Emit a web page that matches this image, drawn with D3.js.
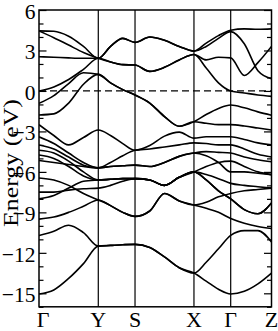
<!DOCTYPE html>
<html><head><meta charset="utf-8">
<script src="https://cdn.jsdelivr.net/npm/d3@7"></script>
<style>body{margin:0;background:#fff}svg{display:block}text{font-family:"Liberation Serif","Times New Roman",serif}</style>
</head><body>
<svg id="chart" width="278" height="331"></svg>
<script>
// high-symmetry points and path lengths (arbitrary k units)
const kLabels = ["Γ", "Y", "S", "X", "Γ", "Z"];
const kPath = [0, 0.510, 0.826, 1.333, 1.649, 2.0];
// sampling grid, in segment units (integer = high-symmetry point)
const kGrid = [0, 0.25, 0.5, 0.75, 1, 1.333, 1.667, 2, 2.25, 2.5, 2.75, 3, 3.333, 3.667, 4, 4.333, 4.667, 5];
const yTicks = [6, 3, 0, -3, -6, -9, -12, -15];
const yDomain = [-16, 6];

// band energies (eV) at kGrid
const bandU1 = [4.45, 4.42, 4.05, 3.3, 2.42, 3.3, 3.9, 3.6, 4.0, 3.75, 3.3, 2.95, 3.55, 4.1, 4.5, 4.6, 4.57, 4.6];
const bandU2 = [4.45, 3.95, 3.4, 2.85, 2.42, 2.15, 1.95, 1.92, 1.45, 1.75, 2.3, 2.7, 2.3, 2.5, 2.45, 1.15, 2.1, 3.3];
const bandU3 = [2.54, 2.5, 2.45, 2.42, 2.42, 3.3, 3.9, 3.6, 4.0, 3.75, 3.3, 2.95, 3.3, 3.9, 4.4, 3.5, 1.5, 0.9];
const bandU4 = [0.0, 0.3, 0.85, 1.6, 2.42, 2.15, 1.95, 1.92, 1.45, 1.75, 2.3, 2.7, 1.7, 0.6, 0.0, -0.15, -0.3, -0.4];
const bandV1 = [-0.92, -0.35, 0.55, 1.35, 1.23, 0.6, 0.1, -0.3, -0.9, -1.9, -2.62, -2.28, -1.75, -1.3, -1.04, -1.25, -1.55, -1.8];
const bandV2 = [-1.78, -1.7, -0.9, 0.5, 1.23, 0.6, 0.1, -0.3, -0.9, -1.9, -2.62, -2.28, -2.4, -2.5, -2.5, -2.6, -2.75, -2.9];
const bandV3 = [-2.5, -3.3, -4.0, -3.45, -2.9, -3.3, -3.9, -4.4, -4.05, -3.35, -3.05, -3.5, -3.4, -3.4, -3.4, -3.6, -3.85, -4.0];
const bandV4 = [-3.4, -3.9, -4.6, -5.3, -5.7, -5.3, -4.8, -4.4, -4.3, -4.15, -4.0, -3.85, -3.9, -4.0, -4.0, -4.3, -4.7, -4.9];
const bandV5 = [-4.0, -4.3, -4.9, -5.5, -5.7, -5.6, -5.55, -5.5, -5.6, -5.3, -4.85, -4.6, -4.5, -4.55, -4.6, -4.9, -5.1, -5.25];
const bandV6 = [-4.4, -4.6, -5.2, -6.0, -6.6, -6.55, -6.5, -6.5, -6.6, -7.0, -6.4, -6.0, -5.6, -5.3, -5.2, -5.6, -6.0, -6.2];
const bandV7 = [-4.75, -5.0, -5.6, -6.3, -6.6, -6.55, -6.5, -6.5, -6.6, -7.0, -6.4, -6.0, -6.2, -6.5, -6.85, -7.0, -7.1, -7.2];
const bandV8 = [-5.15, -5.3, -5.45, -5.6, -5.7, -5.6, -5.55, -5.5, -5.6, -5.3, -4.85, -4.6, -4.8, -5.3, -6.0, -6.0, -6.1, -6.2];
const bandL4 = [-8.0, -7.75, -7.2, -6.7, -6.6, -6.55, -6.5, -6.5, -6.6, -7.0, -6.4, -6.0, -6.6, -7.4, -8.0, -8.8, -9.1, -8.3];
const bandL5 = [-7.5, -7.5, -7.35, -7.25, -7.2, -7.0, -6.7, -6.5, -6.6, -7.0, -6.4, -6.0, -6.6, -7.4, -8.0, -8.8, -9.1, -8.3];
const bandL3 = [-9.5, -9.35, -9.0, -8.55, -8.08, -8.5, -9.0, -9.3, -8.9, -7.6, -8.15, -8.45, -8.25, -7.85, -7.6, -7.4, -7.3, -7.2];
const bandL6 = [-6.45, -6.6, -7.0, -7.6, -8.08, -8.5, -9.0, -9.3, -8.9, -7.6, -8.15, -8.45, -8.7, -9.0, -9.45, -9.8, -10.05, -10.2];
const bandL2 = [-10.72, -10.4, -9.95, -10.5, -11.5, -11.45, -11.4, -11.37, -11.6, -12.3, -13.1, -13.5, -12.7, -11.7, -10.7, -10.35, -10.35, -11.2];
const bandL1 = [-15.05, -14.75, -13.9, -12.8, -11.5, -11.45, -11.4, -11.37, -11.6, -12.3, -13.1, -13.5, -14.1, -14.7, -15.05, -14.85, -14.3, -13.5];

const bands = [bandU1, bandU2, bandU3, bandU4, bandV1, bandV2, bandV3, bandV4, bandV5, bandV6,
               bandV7, bandV8, bandL4, bandL5, bandL3, bandL6, bandL2, bandL1];

const plot = {left: 39, right: 271.5, top: 10, bottom: 306.8};
const svg = d3.select("#chart");
const FONT = '"Liberation Serif","Times New Roman",serif';

const segToPath = d3.scaleLinear().domain(d3.range(kPath.length)).range(kPath);
const x = d3.scaleLinear().domain([kPath[0], kPath[kPath.length - 1]]).range([plot.left, plot.right]);
const y = d3.scaleLinear().domain(yDomain).range([plot.bottom, plot.top]);

svg.append("clipPath").attr("id", "clip").append("rect")
  .attr("x", plot.left).attr("y", plot.top)
  .attr("width", plot.right - plot.left).attr("height", plot.bottom - plot.top);

svg.append("g").selectAll("line").data(kPath.slice(1, -1)).join("line")
  .attr("x1", d => x(d)).attr("x2", d => x(d))
  .attr("y1", plot.top).attr("y2", plot.bottom)
  .attr("stroke", "#000").attr("stroke-width", 1.2);

svg.append("line")
  .attr("x1", plot.left).attr("x2", plot.right)
  .attr("y1", y(0)).attr("y2", y(0))
  .attr("stroke", "#000").attr("stroke-width", 1.3).attr("stroke-dasharray", "7,4");

const line = d3.line()
  .x((d, i) => x(segToPath(kGrid[i])))
  .y(d => y(d))
  .curve(d3.curveMonotoneX);
svg.append("g").attr("clip-path", "url(#clip)")
  .selectAll("path").data(bands).join("path")
  .attr("d", line)
  .attr("fill", "none").attr("stroke", "#000").attr("stroke-width", 1.6);

const minor = d3.range(yDomain[0], yDomain[1] + 1, 1).filter(v => !yTicks.includes(v));
function styleAxis(g) {
  g.select(".domain").remove();
  g.selectAll("line").attr("stroke", "#000").attr("stroke-width", 1.2);
  g.attr("font-family", null).attr("font-size", null);
}
const gL = svg.append("g").attr("transform", `translate(${plot.left},0)`)
  .call(d3.axisLeft(y).tickValues(yTicks).tickSize(-7.5).tickPadding(3.5).tickFormat(d3.format("d")));
styleAxis(gL);
gL.selectAll("text").style("font-family", FONT).style("font-size", "21.5px").attr("fill", "#000").attr("dy", "0.38em");
svg.append("g").attr("transform", `translate(${plot.left},0)`)
  .call(d3.axisLeft(y).tickValues(minor).tickSize(-4.5).tickFormat("")).call(styleAxis);
svg.append("g").attr("transform", `translate(${plot.right},0)`)
  .call(d3.axisRight(y).tickValues(yTicks).tickSize(-7.5).tickFormat("")).call(styleAxis);
svg.append("g").attr("transform", `translate(${plot.right},0)`)
  .call(d3.axisRight(y).tickValues(minor).tickSize(-4.5).tickFormat("")).call(styleAxis);

svg.append("rect")
  .attr("x", plot.left).attr("y", plot.top)
  .attr("width", plot.right - plot.left).attr("height", plot.bottom - plot.top)
  .attr("fill", "none").attr("stroke", "#000").attr("stroke-width", 1.5);

svg.append("g").selectAll("text").data(kLabels).join("text")
  .attr("x", (d, i) => x(kPath[i]) + (i === 0 ? 4 : 0))
  .attr("y", 327)
  .attr("text-anchor", "middle")
  .style("font-family", FONT).style("font-size", "22px").attr("fill", "#000")
  .text(d => d);

svg.append("text")
  .attr("transform", `translate(17.5,${(98 + 228) / 2}) rotate(-90)`)
  .attr("text-anchor", "middle")
  .style("font-family", FONT).style("font-size", "21px").attr("fill", "#000")
  .attr("textLength", 128).attr("lengthAdjust", "spacingAndGlyphs")
  .text("Energy (eV)");
</script>
</body></html>
